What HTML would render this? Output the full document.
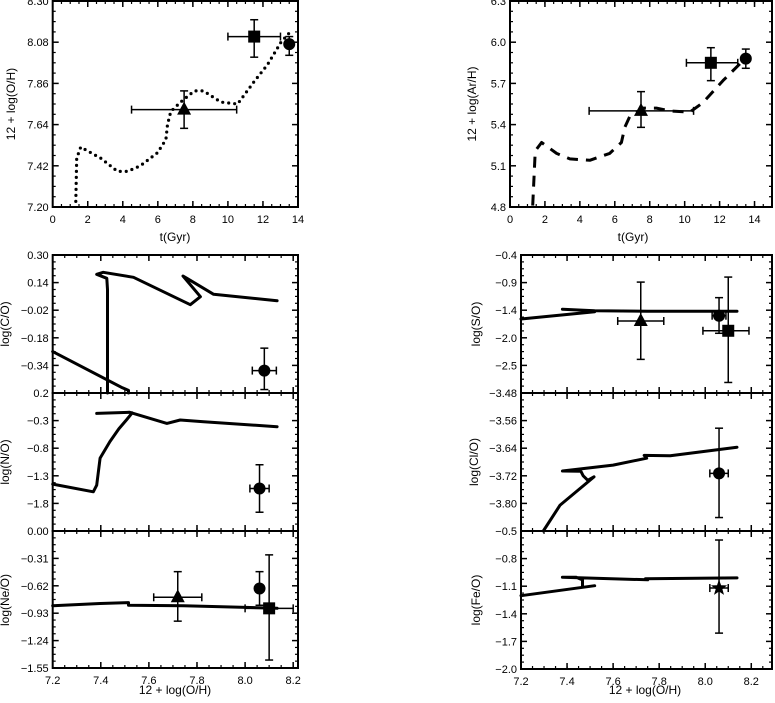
<!DOCTYPE html>
<html><head><meta charset="utf-8"><style>
html,body{margin:0;padding:0;background:#fff;}
svg{display:block;font-family:"Liberation Sans",sans-serif;}
</style></head><body>
<svg id="fig" width="775" height="703" viewBox="0 0 775 703" xmlns="http://www.w3.org/2000/svg"></svg>
<script>
// ---------- data ----------
// top-left: O/H vs time
const ohCurveT = [1.32,1.37,1.6,2.75,3.7,4.27,5.0,5.98,6.46,6.55,6.74,7.3,8.08,8.6,9.6,10.55,11.5,12.26,13.03,13.6];
const ohCurveV = [7.23,7.46,7.52,7.46,7.39,7.39,7.42,7.49,7.56,7.64,7.71,7.76,7.82,7.82,7.76,7.75,7.87,7.96,8.08,8.14];
const ohObsT = [11.5,13.5,7.5];
const ohObsV = [8.11,8.07,7.72];
const ohObsXlo = [10.0,13.5,4.5];
const ohObsXhi = [13.0,13.5,10.5];
const ohObsYlo = [8.00,8.01,7.62];
const ohObsYhi = [8.20,8.11,7.82];
// top-right: Ar/H vs time
const arCurveT = [1.3,1.43,1.52,1.81,2.67,3.43,4.57,5.71,6.38,6.57,6.86,7.62,8.38,9.14,10.29,11.05,12.19,13.14,13.5];
const arCurveV = [4.81,5.17,5.22,5.27,5.19,5.15,5.14,5.19,5.27,5.38,5.46,5.52,5.52,5.50,5.49,5.56,5.72,5.84,5.89];
const arObsT = [11.5,13.5,7.5];
const arObsV = [5.85,5.88,5.50];
const arObsXlo = [10.1,13.5,4.53];
const arObsXhi = [13.04,13.5,10.51];
const arObsYlo = [5.72,5.81,5.38];
const arObsYhi = [5.96,5.95,5.64];
// C/O
const coLine1X = [7.2,7.49,7.515,7.515];
const coLine1Y = [-0.26,-0.47,-0.485,-0.50];
const coLine2X = [7.428,7.428,7.425,7.383,7.41,7.536,7.772,7.814,7.742,7.758,7.869,8.133];
const coLine2Y = [-0.50,0.10,0.165,0.188,0.20,0.171,0.012,0.058,0.178,0.165,0.072,0.035];
const coObsX=[8.08], coObsY=[-0.37], coObsXlo=[8.03], coObsXhi=[8.13], coObsYlo=[-0.48], coObsYhi=[-0.24];
// N/O
const noLine1X = [7.2,7.369,7.383,7.397,7.438,7.475,7.508,7.53];
const noLine1Y = [-1.45,-1.59,-1.47,-0.98,-0.68,-0.45,-0.28,-0.16];
const noLine2X = [7.383,7.52,7.675,7.73,7.828,8.133];
const noLine2Y = [-0.17,-0.15,-0.35,-0.29,-0.32,-0.41];
const noObsX=[8.06], noObsY=[-1.53], noObsXlo=[8.02], noObsXhi=[8.10], noObsYlo=[-1.96], noObsYhi=[-1.10];
// Ne/O
const neLineX = [7.2,7.397,7.515,7.515,7.744,8.133];
const neLineY = [-0.845,-0.82,-0.81,-0.84,-0.845,-0.875];
const neObsX=[7.72,8.06,8.10], neObsY=[-0.75,-0.65,-0.875];
const neObsXlo=[7.62,8.06,8.0], neObsXhi=[7.82,8.06,8.2];
const neObsYlo=[-1.02,-0.84,-1.46], neObsYhi=[-0.46,-0.46,-0.27];
// S/O
const soLine1X=[7.2,7.52], soLine1Y=[-1.675,-1.53];
const soLine2X=[7.38,7.52,7.75,8.138], soLine2Y=[-1.48,-1.51,-1.52,-1.52];
const soObsX=[7.72,8.06,8.10], soObsY=[-1.715,-1.61,-1.91];
const soObsXlo=[7.62,8.03,7.99], soObsXhi=[7.82,8.09,8.19];
const soObsYlo=[-2.48,-1.96,-2.94], soObsYhi=[-0.94,-1.25,-0.84];
// Cl/O
const clLineX=[7.297,7.37,7.474,7.517,7.49,7.47,7.46,7.38,7.6,7.746,7.735,7.848,8.138];
const clLineY=[-3.88,-3.805,-3.747,-3.723,-3.733,-3.72,-3.707,-3.706,-3.689,-3.669,-3.661,-3.662,-3.637];
const clObsX=[8.06], clObsY=[-3.713], clObsXlo=[8.02], clObsXhi=[8.10], clObsYlo=[-3.841], clObsYhi=[-3.582];
// Fe/O
const feLine1X=[7.2,7.52], feLine1Y=[-1.203,-1.095];
const feLine2X=[7.467,7.467,7.44,7.38,7.75,7.74,8.138], feLine2Y=[-1.10,-1.03,-1.003,-1.003,-1.03,-1.02,-1.01];
const feObsX=[8.06], feObsY=[-1.12], feObsXlo=[8.02], feObsXhi=[8.10], feObsYlo=[-1.61], feObsYhi=[-0.598];
// tick labels
const tXTicks=[0,2,4,6,8,10,12,14];
const ohYTicks=[7.20,7.42,7.64,7.86,8.08,8.30];
const arYTicks=[4.8,5.1,5.4,5.7,6.0,6.3];
const zXTicks=[7.2,7.4,7.6,7.8,8.0,8.2];
const coYTicks=[-0.34,-0.18,-0.02,0.14,0.30];
const noYTicks=[-1.8,-1.3,-0.8,-0.3,0.2];
const neYTicks=[-1.55,-1.24,-0.93,-0.62,-0.31,0.00];
const soYTicks=[-2.6,-2.05,-1.5,-0.95,-0.4];
const soYLabels=["-2.5","-2.0","-1.4","-0.9","-0.4"];
const clYTicks=[-3.80,-3.72,-3.64,-3.56,-3.48];
const feYTicks=[-2.0,-1.7,-1.4,-1.1,-0.8,-0.5];

// ---------- drawing ----------
const NS="http://www.w3.org/2000/svg";
const svg=document.getElementById('fig');
function mk(tag,attrs,parent){const e=document.createElementNS(NS,tag);for(const k in attrs)e.setAttribute(k,attrs[k]);(parent||svg).appendChild(e);return e;}
function fmt(v,d){return (v<0?"\u2212":"")+Math.abs(v).toFixed(d);}

function panel(name,px0,px1,py0,py1,xd,yd){
  const g=mk('g',{});
  
  
  const sx=v=>px0+(v-xd[0])/(xd[1]-xd[0])*(px1-px0);
  const sy=v=>py1-(v-yd[0])/(yd[1]-yd[0])*(py1-py0);
  const fr=mk('rect',{x:px0,y:py0,width:px1-px0,height:py1-py0,fill:'none',stroke:'#000','stroke-width':2},g);
  
  
  return {g,sx,sy,px0,px1,py0,py1};
}
function xTicks(P,ticks,minorStep,labels,dec){
  const g=mk('g',{},P.g);
  
  
  ticks.forEach((t,i)=>{
    const x=P.sx(t);
    mk('line',{x1:x,x2:x,y1:P.py1,y2:P.py1-6,stroke:'#000','stroke-width':1.5},g);
    mk('line',{x1:x,x2:x,y1:P.py0,y2:P.py0+6,stroke:'#000','stroke-width':1.5},g);
    if(labels){const tx=mk('text',{x:x,y:P.py1+16,'font-size':11,'text-anchor':'middle'},g);tx.textContent=dec===0?String(t):t.toFixed(dec);}
  });
  const a=ticks[0],step=ticks[1]-ticks[0];
  for(let v=a-step;v<=ticks[ticks.length-1]+step;v+=minorStep){
    const x=P.sx(v); if(x<=P.px0+1||x>=P.px1-1)continue;
    mk('line',{x1:x,x2:x,y1:P.py1,y2:P.py1-3,stroke:'#000','stroke-width':1.2},g);
    mk('line',{x1:x,x2:x,y1:P.py0,y2:P.py0+3,stroke:'#000','stroke-width':1.2},g);
  }
}
function yTicks(P,ticks,labels,nminor){
  const g=mk('g',{},P.g);
  
  
  const step=ticks[1]-ticks[0];
  ticks.forEach((t,i)=>{
    const y=P.sy(t);
    mk('line',{x1:P.px0,x2:P.px0+6,y1:y,y2:y,stroke:'#000','stroke-width':1.5},g);
    mk('line',{x1:P.px1,x2:P.px1-6,y1:y,y2:y,stroke:'#000','stroke-width':1.5},g);
    const tx=mk('text',{x:P.px0-4,y:y+4,'font-size':11,'text-anchor':'end'},g);
    tx.textContent=labels[i];
  });
  for(let k=-1;k<ticks.length;k++)for(let j=1;j<nminor;j++){
    const y=P.sy(ticks[0]+k*step+j*step/nminor); if(y<=P.py0+1||y>=P.py1-1)continue;
    mk('line',{x1:P.px0,x2:P.px0+3,y1:y,y2:y,stroke:'#000','stroke-width':1.2},g);
    mk('line',{x1:P.px1,x2:P.px1-3,y1:y,y2:y,stroke:'#000','stroke-width':1.2},g);
  }
}
function title(x,y,txt,rot,name){
  const t=mk('text',{x:x,y:y,'font-size':12,'text-anchor':'middle',transform:rot?`rotate(-90 ${x} ${y})`:''});
  t.textContent=txt;
  
  
}
function curve(P,xs,ys,name,dash){
  const d=xs.map((v,i)=>(i?'L':'M')+P.sx(v).toFixed(1)+' '+P.sy(ys[i]).toFixed(1)).join(' ');
  const a={d:d,fill:'none',stroke:'#000','stroke-width':3,'stroke-linejoin':'round'};
  if(dash==='dot'){a['stroke-dasharray']='0 6';a['stroke-linecap']='round';a['stroke-width']=3.2;}
  else if(dash==='dash'){a['stroke-dasharray']='11 8';}
  else a['stroke-linecap']='round';
  const p=mk('path',a,P.g);
  
  
}
function marker(P,kind,x,y,name,xlo,xhi,ylo,yhi){
  const g=mk('g',{},P.g);
  
  
  const X=P.sx(x),Y=P.sy(y),c=4;
  const ln=(a,b,cc,d)=>mk('line',{x1:a,y1:b,x2:cc,y2:d,stroke:'#000','stroke-width':1.5},g);
  if(Math.abs(P.sx(xhi)-P.sx(xlo))>1){const a=P.sx(xlo),b=P.sx(xhi);ln(a,Y,b,Y);ln(a,Y-c,a,Y+c);ln(b,Y-c,b,Y+c);}
  if(Math.abs(P.sy(yhi)-P.sy(ylo))>1){const a=P.sy(ylo),b=P.sy(yhi);ln(X,a,X,b);ln(X-c,a,X+c,a);ln(X-c,b,X+c,b);}
  if(kind==='circle')mk('circle',{cx:X,cy:Y,r:6,fill:'#000'},g);
  else if(kind==='square')mk('rect',{x:X-6,y:Y-6,width:12,height:12,fill:'#000'},g);
  else if(kind==='triangle')mk('polygon',{points:`${X},${Y-8} ${X+7},${Y+5} ${X-7},${Y+5}`,fill:'#000'},g);
  else if(kind==='star'){let pts=[];for(let i=0;i<10;i++){const r=i%2?3.5:8.5,an=-Math.PI/2+i*Math.PI/5;pts.push((X+r*Math.cos(an)).toFixed(1)+','+(Y+r*Math.sin(an)).toFixed(1));}mk('polygon',{points:pts.join(' '),fill:'#000'},g);}
}
function obs(P,kinds,xs,ys,xlo,xhi,ylo,yhi,prefix){
  xs.forEach((v,i)=>marker(P,kinds[i],v,ys[i],prefix+'-'+kinds[i],xlo[i],xhi[i],ylo[i],yhi[i]));
}

// top-left
let P=panel('oh-vs-time-panel',52.7,298,1,207,[0,14],[7.2,8.3]);
xTicks(P,tXTicks,0.5,true,0); yTicks(P,ohYTicks,ohYTicks.map(v=>v.toFixed(2)),4);
curve(P,ohCurveT,ohCurveV,'oh-model-curve','dot');
obs(P,['square','circle','triangle'],ohObsT,ohObsV,ohObsXlo,ohObsXhi,ohObsYlo,ohObsYhi,'oh-obs');
title(175,241,'t(Gyr)',false,'x-axis-title-time');
title(15,104,'12 + log(O/H)',true,'y-axis-title-oh');
// top-right
P=panel('arh-vs-time-panel',510,772,1,207,[0,15],[4.8,6.3]);
xTicks(P,tXTicks,0.5,true,0); yTicks(P,arYTicks,arYTicks.map(v=>v.toFixed(1)),4);
curve(P,arCurveT,arCurveV,'ar-model-curve','dash');
obs(P,['square','circle','triangle'],arObsT,arObsV,arObsXlo,arObsXhi,arObsYlo,arObsYhi,'ar-obs');
title(633,241,'t(Gyr)',false,'x-axis-title-time-right');
title(476,104,'12 + log(Ar/H)',true,'y-axis-title-arh');
// C/O
P=panel('co-panel',52.7,298,255,393,[7.2,8.22],[-0.5,0.3]);
xTicks(P,zXTicks,0.05,false); yTicks(P,coYTicks,coYTicks.map(v=>fmt(v,2)),4);
curve(P,coLine1X,coLine1Y,'co-model-branch1'); curve(P,coLine2X,coLine2Y,'co-model-branch2');
obs(P,['circle'],coObsX,coObsY,coObsXlo,coObsXhi,coObsYlo,coObsYhi,'co-obs');
title(9,324,'log(C/O)',true,'y-axis-title-co');
// N/O
P=panel('no-panel',52.7,298,393,531,[7.2,8.22],[-2.3,0.2]);
xTicks(P,zXTicks,0.05,false); yTicks(P,noYTicks,noYTicks.map(v=>fmt(v,1)),4);
curve(P,noLine1X,noLine1Y,'no-model-branch1'); curve(P,noLine2X,noLine2Y,'no-model-branch2');
obs(P,['circle'],noObsX,noObsY,noObsXlo,noObsXhi,noObsYlo,noObsYhi,'no-obs');
title(9,462,'log(N/O)',true,'y-axis-title-no');
// Ne/O
P=panel('neo-panel',52.7,298,531,668,[7.2,8.22],[-1.55,0]);
xTicks(P,zXTicks,0.05,true,1); yTicks(P,neYTicks,neYTicks.map(v=>fmt(v,2)),4);
curve(P,neLineX,neLineY,'neo-model-curve');
obs(P,['triangle','circle','square'],neObsX,neObsY,neObsXlo,neObsXhi,neObsYlo,neObsYhi,'neo-obs');
title(9,600,'log(Ne/O)',true,'y-axis-title-neo');
title(175,694,'12 + log(O/H)',false,'x-axis-title-oh-left');
// S/O
P=panel('so-panel',521,772,255,393,[7.2,8.29],[-3.15,-0.4]);
xTicks(P,zXTicks,0.05,false); yTicks(P,soYTicks,soYLabels.map(s=>s.replace('-','\u2212')),4);
curve(P,soLine1X,soLine1Y,'so-model-branch1'); curve(P,soLine2X,soLine2Y,'so-model-branch2');
obs(P,['triangle','circle','square'],soObsX,soObsY,soObsXlo,soObsXhi,soObsYlo,soObsYhi,'so-obs');
title(480,324,'log(S/O)',true,'y-axis-title-so');
// Cl/O
P=panel('clo-panel',521,772,393,531,[7.2,8.29],[-3.88,-3.48]);
xTicks(P,zXTicks,0.05,false); yTicks(P,clYTicks,clYTicks.map(v=>fmt(v,2)),4);
curve(P,clLineX,clLineY,'clo-model-curve');
obs(P,['circle'],clObsX,clObsY,clObsXlo,clObsXhi,clObsYlo,clObsYhi,'clo-obs');
title(478,462,'log(Cl/O)',true,'y-axis-title-clo');
// Fe/O
P=panel('feo-panel',521,772,531,669,[7.2,8.29],[-2.0,-0.5]);
xTicks(P,zXTicks,0.05,true,1); yTicks(P,feYTicks,feYTicks.map(v=>fmt(v,1)),4);
curve(P,feLine1X,feLine1Y,'feo-model-branch1'); curve(P,feLine2X,feLine2Y,'feo-model-branch2');
obs(P,['star'],feObsX,feObsY,feObsXlo,feObsXhi,feObsYlo,feObsYhi,'feo-obs');
title(480,600,'log(Fe/O)',true,'y-axis-title-feo');
title(645,694,'12 + log(O/H)',false,'x-axis-title-oh-right');
</script>
</body></html>
